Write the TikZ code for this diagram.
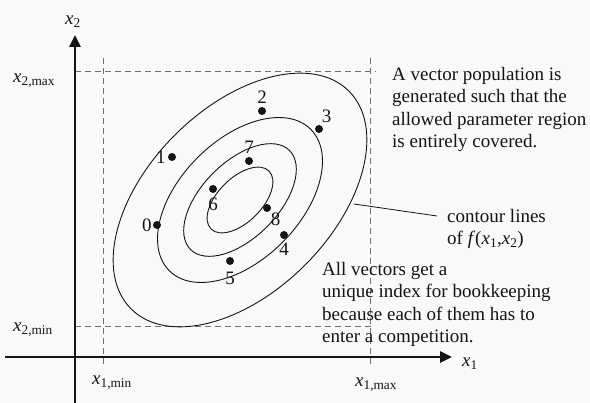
\documentclass[tikz,border=0pt]{standalone}
\usepackage{fontspec}
\setmainfont{Liberation Serif}
\usetikzlibrary{arrows.meta, positioning, calc}
\definecolor{inkblack}{RGB}{20, 20, 20}
\definecolor{dashgray}{RGB}{110, 110, 110}
\definecolor{paper}{RGB}{249, 249, 249}
\newcommand{\xv}[1]{\textit{x}\textsubscript{#1}}

\begin{document}
\begin{tikzpicture}[
    x=1pt, y=-1pt,
    >={Triangle[length=12pt, width=11pt]},
    axis/.style={->, line width=2.8pt, color=inkblack},
    bound/.style={dash pattern=on 6pt off 4pt, line width=0.8pt, color=dashgray},
    contour/.style={line width=0.9pt, color=inkblack},
    dot/.style={circle, fill=inkblack, inner sep=0pt, minimum size=8pt},
    lbl/.style={font=\fontsize{19}{22.5}\selectfont, inner sep=0pt, text=inkblack},
    num/.style={lbl},
    note/.style={lbl, align=left, anchor=north west},
    lead/.style={line width=0.8pt, color=inkblack},
]

% --- Canvas ---
\fill[paper] (0,0) rectangle (590,403);
\useasboundingbox (0,0) rectangle (590,403);

% --- Parameter bounds ---
\coordinate (xmin-t) at (103,58);
\coordinate (xmin-b) at (103,365);
\coordinate (xmax-t) at (370,58);
\coordinate (xmax-b) at (370,365);
\coordinate (ymax-l) at (75,71);
\coordinate (ymax-r) at (376,71);
\coordinate (ymin-l) at (75,326);
\coordinate (ymin-r) at (374,326);
\draw[bound] (xmin-t) -- (xmin-b);
\draw[bound] (xmax-t) -- (xmax-b);
\draw[bound] (ymax-l) -- (ymax-r);
\draw[bound] (ymin-l) -- (ymin-r);

% --- Axes ---
\coordinate (yfoot) at (75,403);
\coordinate (ytip) at (75,35);
\coordinate (xfoot) at (5,357);
\coordinate (xtip) at (452,357);
\draw[axis] (yfoot) -- (ytip);
\draw[axis] (xfoot) -- (xtip);

\node[lbl, anchor=base west] (x2lab) at (65,25) {\xv{2}};
\node[lbl, anchor=base west] (x1lab) at (462,367) {\xv{1}};
\node[lbl, anchor=base west] (x2max) at (13,83) {\xv{2,max}};
\node[lbl, anchor=base west] (x2min) at (13,332) {\xv{2,min}};
\node[lbl, anchor=base west] (x1min) at (92,385) {\xv{1,min}};
\node[lbl, anchor=base west] (x1max) at (355,387) {\xv{1,max}};

% --- Contour lines ---
\begin{scope}[shift={(240,200)}, rotate=45]
  \draw[contour] (0,0) ellipse [x radius=41, y radius=22];
  \draw[contour] (0,0) ellipse [x radius=70, y radius=38];
  \draw[contour] (0,0) ellipse [x radius=100, y radius=60];
  \draw[contour] (0,0) ellipse [x radius=154, y radius=92];
\end{scope}

% --- Vector population ---
\foreach \n/\px/\py/\ang/\dd in {0/157/225/180/1, 1/172/157/180/2,
    2/262/111/90/3, 3/319/129/65/2, 4/284/235/-90/4, 5/230/261/-90/7,
    6/213/189/-90/5, 7/249/161/90/3, 8/267/208/-55/2}
  \node[dot, label={[num, label distance=\dd pt]\ang:\n}] (v\n) at (\px,\py) {};

% --- Notes ---
\node[note] (popnote) at (392,67) {A vector population is\\generated such that the\\allowed parameter region\\is entirely covered.};
\node[note] (ctext) at (447,209) {contour lines\\of \textit{f}(\xv{1},\xv{2})};
\node[note] (idxnote) at (322,262) {All vectors get a\\unique index for bookkeeping\\because each of them has to\\enter a competition.};

\coordinate (lead) at (354,204);
\draw[lead] (lead) -- ([xshift=-10pt, yshift=-7pt]ctext.north west);

\end{tikzpicture}
\end{document}
